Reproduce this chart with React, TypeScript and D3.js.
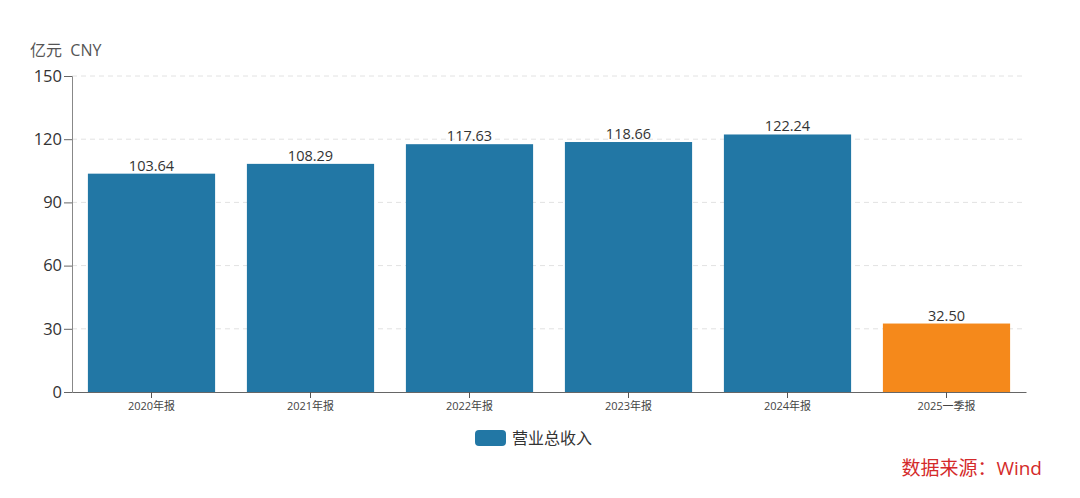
import { useEffect, useRef } from 'react'
import * as d3 from 'd3'

const categories = ['2020年报', '2021年报', '2022年报', '2023年报', '2024年报', '2025一季报']
const revenue = [103.64, 108.29, 117.63, 118.66, 122.24, 32.5]
const yTicks = [0, 30, 60, 90, 120, 150]

const BLUE = '#2277a5'
const ORANGE = '#f5891b'
const FONT = '"Open Sans", "Noto Sans CJK SC", sans-serif'

export default function App() {
  const svgRef = useRef<SVGSVGElement>(null)

  useEffect(() => {
    if (!svgRef.current) return
    const svg = d3.select(svgRef.current)
    svg.selectAll('*').remove()

    const W = 1080, H = 498
    const m = { l: 72, r: 54, t: 76, b: 106 }
    const iW = W - m.l - m.r, iH = H - m.t - m.b

    const x = d3.scaleBand<string>().domain(categories).range([0, iW]).paddingInner(0.2).paddingOuter(0.1)
    const y = d3.scaleLinear().domain([0, 150]).range([iH, 0])

    const g = svg.append('g').attr('transform', `translate(${m.l},${m.t})`)

    // unit label
    svg.append('text').attr('x', 30).attr('y', 56).attr('fill', '#555').attr('font-size', 16)
      .attr('font-family', FONT).style('white-space', 'pre').text('亿元  CNY')

    // grid
    g.append('g').selectAll('line').data(yTicks.filter(t => t > 0)).join('line')
      .attr('x1', 0).attr('x2', iW).attr('y1', d => y(d)).attr('y2', d => y(d))
      .attr('stroke', '#e2e2e2').attr('stroke-dasharray', '5,4')

    // bars
    g.append('g').selectAll('rect').data(revenue).join('rect')
      .attr('x', (_, i) => x(categories[i])!).attr('width', x.bandwidth())
      .attr('y', d => y(d)).attr('height', d => iH - y(d))
      .attr('fill', (_, i) => i === categories.length - 1 ? ORANGE : BLUE)

    // value labels
    g.append('g').selectAll('text').data(revenue).join('text')
      .attr('x', (_, i) => x(categories[i])! + x.bandwidth() / 2).attr('y', d => y(d) - 3)
      .attr('text-anchor', 'middle').attr('fill', '#333').attr('font-size', 14.5)
      .attr('font-family', FONT).text(d => d.toFixed(2))

    // y axis
    const ya = g.append('g').call(d3.axisLeft(y).tickValues(yTicks).tickSize(8).tickPadding(2))
    ya.select('.domain').attr('stroke', '#888')
    ya.selectAll('line').attr('stroke', '#666')
    ya.selectAll('text').attr('fill', '#333').attr('font-size', 16.5).attr('font-family', FONT)

    // x axis
    const xa = g.append('g').attr('transform', `translate(0,${iH})`)
      .call(d3.axisBottom(x).tickSize(6).tickSizeOuter(0).tickPadding(4))
    xa.select('.domain').attr('stroke', '#666')
    xa.selectAll('line').attr('stroke', '#555')
    xa.selectAll('text').attr('fill', '#444').attr('font-size', 11).attr('font-family', FONT)

    // legend
    const lg = svg.append('g').attr('transform', 'translate(475,430)')
    lg.append('rect').attr('width', 31).attr('height', 16).attr('rx', 4).attr('fill', BLUE)
    lg.append('text').attr('x', 37).attr('y', 14).attr('fill', '#333').attr('font-size', 16)
      .attr('font-family', FONT).text('营业总收入')

    // source
    svg.append('text').attr('x', 1042).attr('y', 475).attr('text-anchor', 'end')
      .attr('fill', '#d42a2a').attr('font-size', 19).attr('font-family', FONT).text('数据来源：Wind')
  }, [])

  return <svg ref={svgRef} width={1080} height={498} style={{ display: 'block', position: 'absolute', left: 0, top: 0 }} />
}
